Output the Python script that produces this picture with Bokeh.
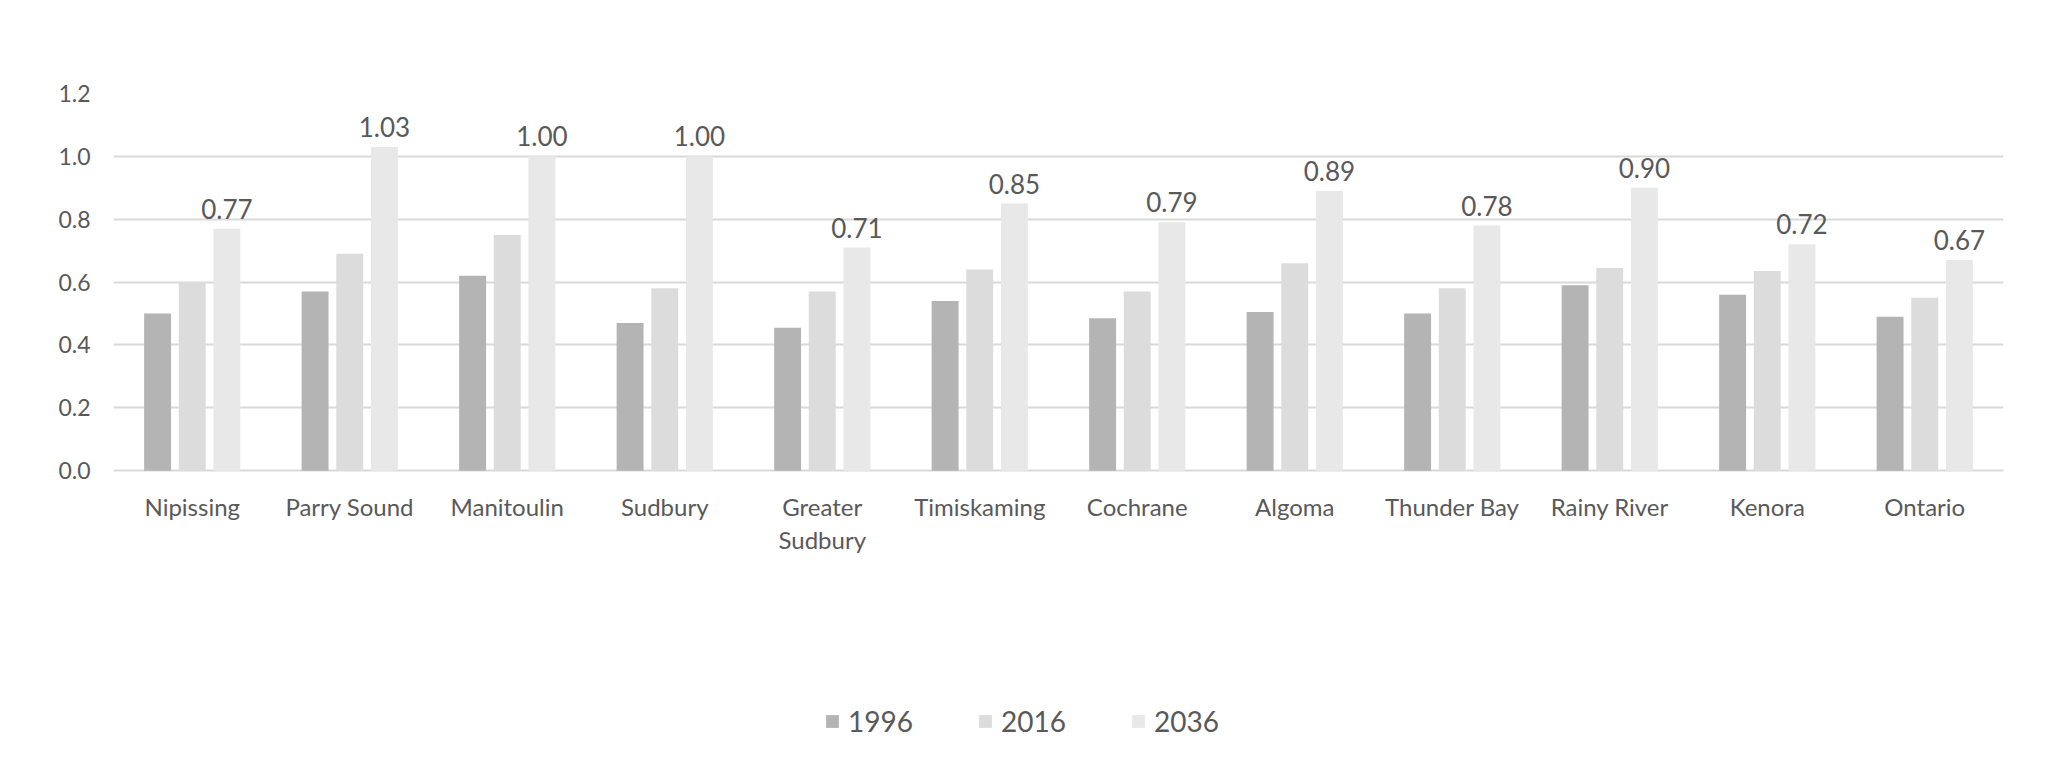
from bokeh.plotting import figure
from bokeh.models import ColumnDataSource, Range1d, FixedTicker, Legend, LegendItem, CustomJSTickFormatter
from bokeh.core.properties import value
from bokeh.embed import file_html
from bokeh.resources import INLINE

categories = ["Nipissing", "Parry Sound", "Manitoulin", "Sudbury", "Greater\nSudbury",
              "Timiskaming", "Cochrane", "Algoma", "Thunder Bay", "Rainy River",
              "Kenora", "Ontario"]
series_names = ["1996", "2016", "2036"]
v1996 = [0.50, 0.57, 0.62, 0.47, 0.455, 0.54, 0.485, 0.505, 0.50, 0.59, 0.56, 0.49]
v2016 = [0.60, 0.69, 0.75, 0.58, 0.57, 0.64, 0.57, 0.66, 0.58, 0.645, 0.635, 0.55]
v2036 = [0.77, 1.03, 1.00, 1.00, 0.71, 0.85, 0.79, 0.89, 0.78, 0.90, 0.72, 0.67]
y_ticks = [0.0, 0.2, 0.4, 0.6, 0.8, 1.0, 1.2]

colors = ["#b4b4b4", "#dcdcdc", "#e8e8e8"]
FONT = "Lato"
TXT = "#595959"

idx = list(range(len(categories)))
offsets = [-0.22, 0.0, 0.22]
bar_w = 0.171

# frame extends below the value axis to hold category labels and legend
p = figure(width=2033, height=753, frame_width=1890, frame_height=660,
           min_border_left=113, min_border_right=30, min_border_top=93, min_border_bottom=0,
           x_range=Range1d(-0.5, 11.5), y_range=Range1d(-0.9, 1.2),
           x_axis_location=None,
           output_backend="svg", toolbar_location=None, tools="")
p.outline_line_color = None
p.background_fill_color = "white"
p.border_fill_color = "white"

renderers = []
for vals, off, col in zip([v1996, v2016, v2036], offsets, colors):
    src = ColumnDataSource(dict(x=[i + off for i in idx], top=vals))
    r = p.vbar(x="x", top="top", width=bar_w, bottom=0, source=src,
               fill_color=col, line_color=None)
    renderers.append(r)

# data labels (2036)
lab_src = ColumnDataSource(dict(x=[i + offsets[2] for i in idx], y=v2036,
                                t=["{:.2f}".format(v) for v in v2036]))
p.text(x="x", y="y", text="t", source=lab_src, text_align="center",
       text_baseline="alphabetic", y_offset=-20, text_font=value(FONT),
       text_font_size="26px", text_color=TXT)

# category labels
cat_src = ColumnDataSource(dict(x=idx, y=[0] * len(idx), t=categories))
p.text(x="x", y="y", text="t", source=cat_src, text_align="center",
       text_baseline="top", y_offset=21, text_font=value(FONT),
       text_font_size="24px", text_color=TXT, text_line_height=1.15)

p.yaxis.ticker = FixedTicker(ticks=y_ticks)
p.yaxis.formatter = CustomJSTickFormatter(code="return tick.toFixed(1);")
p.yaxis.major_tick_line_color = None
p.yaxis.minor_tick_line_color = None
p.yaxis.axis_line_color = None
p.yaxis.major_label_text_font = FONT
p.yaxis.major_label_text_font_size = "23px"
p.yaxis.major_label_text_color = TXT
p.yaxis.major_label_standoff = 17

p.xgrid.grid_line_color = None
p.ygrid.ticker = FixedTicker(ticks=y_ticks)
p.ygrid.grid_line_color = "#d9d9d9"
p.ygrid.grid_line_width = 2

legend = Legend(items=[LegendItem(label=n, renderers=[r]) for n, r in zip(series_names, renderers)],
                orientation="horizontal", location=(711, 15),
                glyph_width=16, glyph_height=16, label_standoff=8, label_width=129,
                spacing=0, padding=0, margin=0, border_line_color=None,
                background_fill_alpha=0, label_text_font=FONT,
                label_text_font_size="28px", label_text_color=TXT)
p.add_layout(legend, "center")

open("out.html", "w").write(file_html(p, INLINE))
